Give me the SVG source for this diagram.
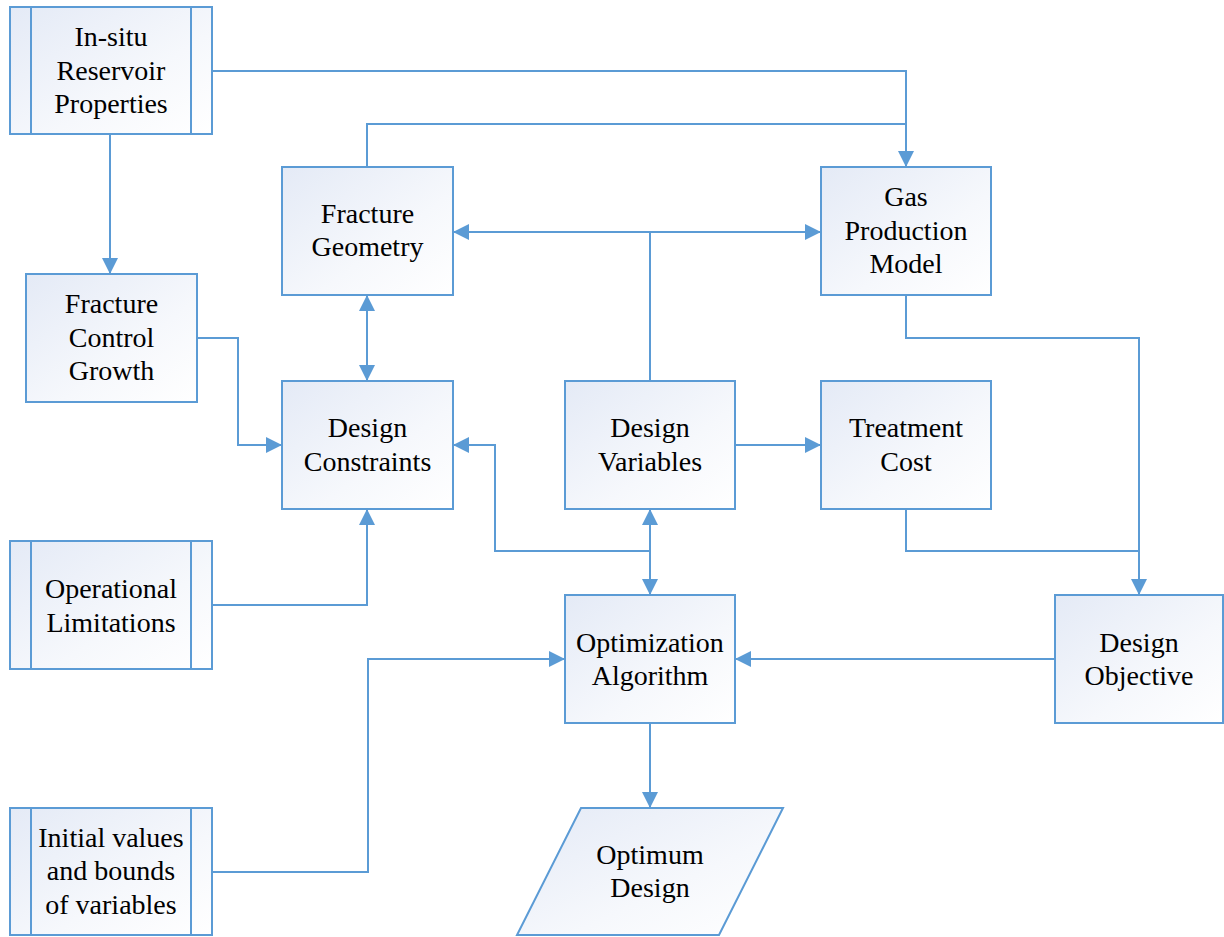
<svg xmlns="http://www.w3.org/2000/svg" width="1224" height="937" viewBox="0 0 1224 937">
<style>
.box{fill:url(#g);stroke:#5b9bd5;stroke-width:2}
.div{stroke:#5b9bd5;stroke-width:2;fill:none}
.c{fill:none;stroke:#5b9bd5;stroke-width:2}
text{font-family:"Liberation Serif","Times New Roman",serif;font-size:28px;fill:#000;text-anchor:middle}
</style>
<defs>
<linearGradient id="g" x1="0" y1="0" x2="1" y2="1">
<stop offset="0" stop-color="#e4eaf6"/>
<stop offset="0.6" stop-color="#f6f8fc"/>
<stop offset="1" stop-color="#ffffff"/>
</linearGradient>
<marker id="a" markerUnits="userSpaceOnUse" markerWidth="16" markerHeight="16" refX="16" refY="8" orient="auto-start-reverse">
<path d="M0,0 L16,8 L0,16 z" fill="#5b9bd5"/>
</marker>
</defs>
<g id="connectors">
<path class="c" d="M212,71 H906 V167" marker-end="url(#a)"/>
<path class="c" d="M367,167 V124 H906"/>
<path class="c" d="M110,134 V274" marker-end="url(#a)"/>
<path class="c" d="M650,381 V232"/>
<path class="c" d="M650,232 H453" marker-end="url(#a)"/>
<path class="c" d="M650,232 H821" marker-end="url(#a)"/>
<path class="c" d="M367,295 V381" marker-start="url(#a)" marker-end="url(#a)"/>
<path class="c" d="M197,338 H238 V445 H282" marker-end="url(#a)"/>
<path class="c" d="M212,605 H367 V509" marker-end="url(#a)"/>
<path class="c" d="M735,445 H821" marker-end="url(#a)"/>
<path class="c" d="M906,295 V338 H1139 V595" marker-end="url(#a)"/>
<path class="c" d="M906,509 V551 H1139"/>
<path class="c" d="M1055,659 H735" marker-end="url(#a)"/>
<path class="c" d="M650,509 V595" marker-start="url(#a)" marker-end="url(#a)"/>
<path class="c" d="M650,551 H495 V445 H453" marker-end="url(#a)"/>
<path class="c" d="M212,872 H368 V659 H565" marker-end="url(#a)"/>
<path class="c" d="M650,723 V808" marker-end="url(#a)"/>
</g>
<g id="insitu">
<rect class="box" x="10" y="7" width="202" height="127"/>
<path class="div" d="M31,7 V134 M191,7 V134"/>
<text x="111" y="46">In-situ</text>
<text x="111" y="80">Reservoir</text>
<text x="111" y="113">Properties</text>
</g>
<g id="fracgeom">
<rect class="box" x="282" y="167" width="171" height="128"/>
<text x="367.5" y="223">Fracture</text>
<text x="367.5" y="256">Geometry</text>
</g>
<g id="gasprod">
<rect class="box" x="821" y="167" width="170" height="128"/>
<text x="906" y="206">Gas</text>
<text x="906" y="240">Production</text>
<text x="906" y="273">Model</text>
</g>
<g id="fraccontrol">
<rect class="box" x="26" y="274" width="171" height="128"/>
<text x="111.5" y="313">Fracture</text>
<text x="111.5" y="347">Control</text>
<text x="111.5" y="380">Growth</text>
</g>
<g id="constraints">
<rect class="box" x="282" y="381" width="171" height="128"/>
<text x="367.5" y="437">Design</text>
<text x="367.5" y="471">Constraints</text>
</g>
<g id="variables">
<rect class="box" x="565" y="381" width="170" height="128"/>
<text x="650" y="437">Design</text>
<text x="650" y="471">Variables</text>
</g>
<g id="cost">
<rect class="box" x="821" y="381" width="170" height="128"/>
<text x="906" y="437">Treatment</text>
<text x="906" y="471">Cost</text>
</g>
<g id="oplim">
<rect class="box" x="10" y="541" width="202" height="128"/>
<path class="div" d="M31,541 V669 M191,541 V669"/>
<text x="111" y="598">Operational</text>
<text x="111" y="632">Limitations</text>
</g>
<g id="optalg">
<rect class="box" x="565" y="595" width="170" height="128"/>
<text x="650" y="652">Optimization</text>
<text x="650" y="685">Algorithm</text>
</g>
<g id="objective">
<rect class="box" x="1055" y="595" width="168" height="128"/>
<text x="1139" y="652">Design</text>
<text x="1139" y="685">Objective</text>
</g>
<g id="initial">
<rect class="box" x="10" y="808" width="202" height="127"/>
<path class="div" d="M31,808 V935 M191,808 V935"/>
<text x="111" y="847">Initial values</text>
<text x="111" y="880">and bounds</text>
<text x="111" y="914">of variables</text>
</g>
<g id="optimum">
<path class="box" d="M581,808 H783 L719,935 H517 Z"/>
<text x="650" y="864">Optimum</text>
<text x="650" y="897">Design</text>
</g>
</svg>
